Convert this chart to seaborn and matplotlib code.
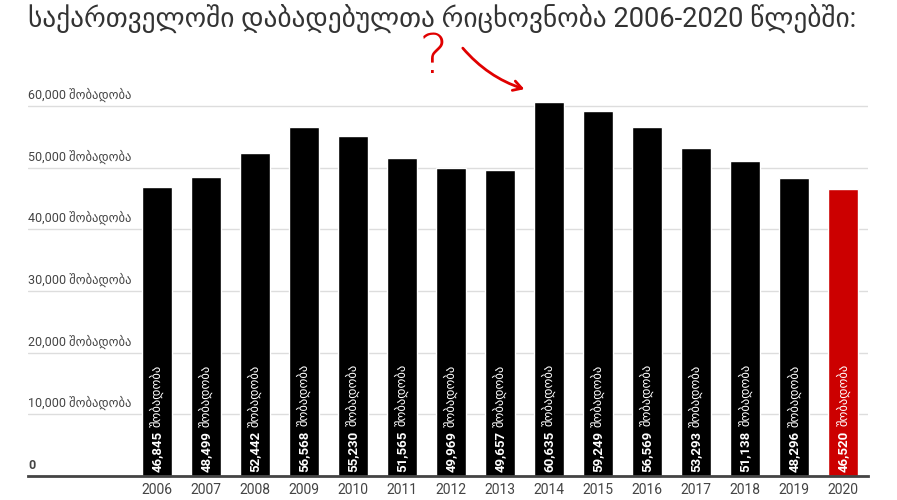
import numpy as np
import pandas as pd
import matplotlib.pyplot as plt
import seaborn as sns

# data
years = ['2006', '2007', '2008', '2009', '2010', '2011', '2012', '2013',
         '2014', '2015', '2016', '2017', '2018', '2019', '2020']
births = [46845, 48499, 52442, 56568, 55230, 51565, 49969, 49657,
          60635, 59249, 56569, 53293, 51138, 48296, 46520]
bar_colors = ['#000000'] * 14 + ['#cc0000']
yticks = [0, 10000, 20000, 30000, 40000, 50000, 60000]
unit = 'შობადობა'
title = 'საქართველოში დაბადებულთა რიცხოვნობა 2006-2020 წლებში:'

df = pd.DataFrame({'year': years, 'births': births})

sns.set_style('white')
plt.rcParams['font.family'] = ['Roboto', 'DejaVu Sans']

fig = plt.figure(figsize=(8.97, 5.0), dpi=100)
ax = fig.add_axes([0.0312, 0.048, 0.9365, 0.752])

sns.barplot(data=df, x='year', y='births', hue='year',
            palette=dict(zip(years, bar_colors)), saturation=1,
            width=0.61, legend=False, ax=ax)

ax.set_xlim(-2.63, 14.51)
ax.set_ylim(0, 61000)
ax.set_xlabel('')
ax.set_ylabel('')

# grid + spines
ax.set_yticks(yticks)
ax.set_yticklabels([])
ax.yaxis.grid(True, color='#dddddd', lw=1)
ax.set_axisbelow(True)
for s in ['top', 'left', 'right']:
    ax.spines[s].set_visible(False)
ax.spines['bottom'].set_color('#444444')
ax.spines['bottom'].set_linewidth(2)
ax.tick_params(axis='y', length=0)
ax.tick_params(axis='x', length=0, pad=5, labelsize=10, labelcolor='#444444')

# y labels sit above the gridlines
for v in yticks:
    lab = '0' if v == 0 else f'{v:,} {unit}'
    ax.annotate(lab, xy=(0, v), xycoords=('axes fraction', 'data'),
                xytext=(0, 3), textcoords='offset points',
                ha='left', va='bottom', fontsize=9, color='#444444',
                fontweight='bold' if v == 0 else 'normal')

# labels inside bars
for bar, v in zip(ax.patches, births):
    xc = bar.get_x() + bar.get_width() / 2
    t = ax.annotate(f'{v:,}', xy=(xc, 0), xytext=(0, 3),
                    textcoords='offset points', rotation=90,
                    ha='center', va='bottom', color='white',
                    fontweight='bold', fontsize=9.5)
    ax.annotate(unit, xy=(0.5, 1), xycoords=t, xytext=(0, 3),
                textcoords='offset points', rotation=90,
                ha='center', va='bottom', color='white', fontsize=9)

fig.text(0.031, 0.962, title, fontsize=19.7, color='#333333', va='center')

# red hand-drawn note
fig.text(433 / 897, 1 - 58 / 500, '?', color='#e00000', fontsize=40,
         fontweight='light', family='DejaVu Sans', ha='center', va='center')
ax.annotate('', xy=(527 / 897, 1 - 90 / 500), xycoords='figure fraction',
            xytext=(461 / 897, 1 - 46 / 500), textcoords='figure fraction',
            arrowprops=dict(arrowstyle='->,head_length=0.6,head_width=0.35',
                            color='#e00000', lw=2,
                            connectionstyle='arc3,rad=0.15'))

fig.savefig('out.png', dpi=100)
